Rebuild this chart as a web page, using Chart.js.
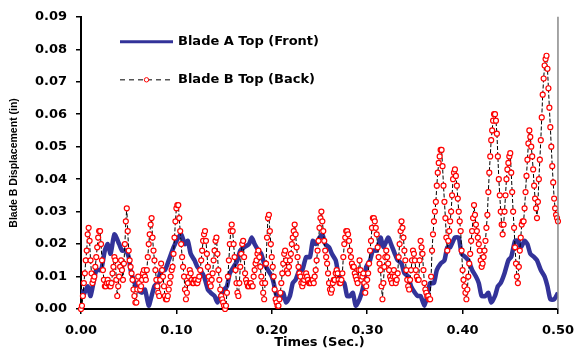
<!DOCTYPE html>
<html>
<head>
<meta charset="utf-8">
<script src="https://cdn.jsdelivr.net/npm/chart.js@4.4.0/dist/chart.umd.min.js"></script>
<style>
  html, body { margin: 0; padding: 0; background: #fff; }
  #wrap { width: 583px; height: 354px; }
</style>
</head>
<body>
<div id="wrap"><canvas id="graph" width="583" height="354"></canvas></div>
<script>
// Blade A Top (Front) - time (sec) / displacement (in)
const bladeATime = [0.000,0.002,0.007,0.010,0.016,0.021,0.025,0.028,0.031,0.035,0.040,0.043,0.047,0.050,0.052,0.055,0.059,0.064,0.067,0.071,
  0.074,0.077,0.080,0.084,0.088,0.092,0.097,0.102,0.105,0.109,0.112,0.115,0.119,0.122,0.125,0.129,0.133,0.136,0.140,0.143,
  0.146,0.150,0.153,0.156,0.160,0.164,0.167,0.171,0.176,0.179,0.182,0.186,0.189,0.192,0.196,0.200,0.202,0.205,0.209,0.212,
  0.215,0.219,0.222,0.225,0.229,0.232,0.236,0.240,0.243,0.246,0.250,0.253,0.256,0.260,0.263,0.267,0.269,0.272,0.276,0.279,
  0.282,0.285,0.288,0.292,0.296,0.299,0.303,0.306,0.310,0.314,0.317,0.322,0.325,0.329,0.332,0.336,0.339,0.343,0.346,0.350,
  0.353,0.356,0.360,0.363,0.366,0.370,0.373,0.377,0.381,0.384,0.387,0.392,0.396,0.399,0.403,0.406,0.410,0.414,0.417,0.420,
  0.424,0.427,0.430,0.434,0.437,0.440,0.444,0.448,0.451,0.455,0.458,0.461,0.465,0.468,0.471,0.475,0.478,0.482,0.486,0.489,
  0.492,0.496,0.500];
const bladeA = [0.006,0.004,0.007,0.004,0.012,0.012,0.018,0.020,0.017,0.023,0.020,0.018,0.018,0.016,0.012,0.009,0.006,0.005,0.006,0.001,
  0.004,0.007,0.008,0.012,0.012,0.015,0.019,0.022,0.023,0.020,0.021,0.017,0.015,0.013,0.012,0.010,0.006,0.005,0.004,0.002,
  0.004,0.006,0.007,0.011,0.013,0.015,0.018,0.019,0.020,0.022,0.020,0.018,0.017,0.014,0.012,0.010,0.008,0.004,0.003,0.005,
  0.002,0.004,0.008,0.009,0.012,0.012,0.016,0.016,0.021,0.020,0.022,0.023,0.020,0.019,0.017,0.015,0.012,0.009,0.008,0.004,
  0.004,0.005,0.001,0.003,0.007,0.013,0.015,0.018,0.018,0.022,0.019,0.022,0.020,0.017,0.015,0.014,0.011,0.010,0.007,0.005,
  0.004,0.004,0.001,0.004,0.008,0.008,0.012,0.014,0.015,0.019,0.019,0.022,0.022,0.017,0.016,0.015,0.012,0.010,0.008,0.004,
  0.004,0.005,0.002,0.004,0.007,0.008,0.011,0.015,0.016,0.021,0.021,0.019,0.021,0.020,0.017,0.016,0.015,0.012,0.010,0.007,
  0.003,0.003,0.005];

// Blade B Top (Back) - sampled every 1 ms (one row = 20 ms)
const bladeBStep = 0.001;
const bladeB = [
  0.000,0.001,0.004,0.008,0.011,0.015,0.018,0.023,0.025,0.021,0.015,0.011,0.008,0.009,0.010,0.013,0.016,0.019,0.022,0.024,
  0.024,0.020,0.015,0.012,0.009,0.007,0.007,0.008,0.009,0.008,0.007,0.007,0.008,0.011,0.013,0.016,0.015,0.009,0.004,0.007,
  0.010,0.013,0.015,0.012,0.009,0.014,0.020,0.027,0.031,0.024,0.018,0.015,0.013,0.011,0.009,0.006,0.004,0.002,0.002,0.006,
  0.010,0.008,0.006,0.007,0.009,0.011,0.012,0.010,0.009,0.012,0.016,0.020,0.023,0.026,0.028,0.022,0.018,0.015,0.012,0.009,
  0.007,0.005,0.004,0.009,0.014,0.012,0.010,0.007,0.004,0.003,0.003,0.004,0.006,0.008,0.010,0.012,0.013,0.017,0.022,0.027,
  0.031,0.032,0.032,0.028,0.024,0.020,0.016,0.013,0.010,0.006,0.003,0.005,0.008,0.010,0.012,0.011,0.009,0.008,0.008,0.009,
  0.009,0.008,0.008,0.009,0.010,0.012,0.015,0.018,0.021,0.023,0.024,0.021,0.017,0.013,0.010,0.008,0.007,0.009,0.011,0.015,
  0.018,0.021,0.022,0.017,0.012,0.009,0.006,0.004,0.003,0.002,0.001,0.000,0.001,0.005,0.010,0.015,0.020,0.024,0.026,0.024,
  0.020,0.016,0.012,0.008,0.005,0.004,0.008,0.013,0.017,0.020,0.021,0.016,0.011,0.009,0.008,0.007,0.007,0.008,0.008,0.007,
  0.007,0.010,0.012,0.014,0.015,0.017,0.018,0.016,0.013,0.010,0.008,0.005,0.003,0.008,0.014,0.022,0.028,0.029,0.024,0.020,
  0.016,0.013,0.010,0.006,0.003,0.002,0.001,0.001,0.003,0.005,0.008,0.011,0.014,0.017,0.018,0.015,0.012,0.011,0.013,0.015,
  0.017,0.020,0.022,0.024,0.026,0.023,0.019,0.016,0.013,0.011,0.010,0.008,0.007,0.008,0.009,0.010,0.011,0.010,0.009,0.008,
  0.008,0.008,0.009,0.009,0.008,0.010,0.012,0.015,0.018,0.021,0.025,0.028,0.030,0.027,0.024,0.021,0.018,0.016,0.014,0.011,
  0.008,0.006,0.005,0.006,0.008,0.009,0.009,0.011,0.012,0.011,0.009,0.008,0.008,0.009,0.011,0.016,0.020,0.022,0.024,0.024,
  0.023,0.021,0.018,0.016,0.014,0.013,0.013,0.011,0.010,0.009,0.008,0.012,0.015,0.012,0.009,0.010,0.011,0.008,0.005,0.007,
  0.009,0.011,0.014,0.018,0.021,0.025,0.028,0.028,0.027,0.025,0.023,0.019,0.016,0.014,0.012,0.007,0.003,0.008,0.013,0.016,
  0.018,0.016,0.014,0.012,0.010,0.009,0.008,0.010,0.012,0.010,0.008,0.009,0.011,0.016,0.020,0.024,0.027,0.025,0.022,0.018,
  0.015,0.012,0.009,0.007,0.006,0.009,0.012,0.015,0.018,0.017,0.015,0.012,0.010,0.009,0.009,0.015,0.021,0.019,0.017,0.012,
  0.008,0.006,0.005,0.004,0.004,0.003,0.003,0.010,0.018,0.023,0.027,0.030,0.033,0.038,0.042,0.045,0.047,0.049,0.049,0.044,
  0.038,0.033,0.028,0.022,0.018,0.021,0.024,0.027,0.030,0.035,0.040,0.042,0.043,0.041,0.038,0.034,0.030,0.027,0.024,0.018,
  0.012,0.009,0.007,0.005,0.003,0.006,0.010,0.014,0.017,0.021,0.024,0.028,0.032,0.029,0.026,0.024,0.022,0.020,0.018,0.015,
  0.013,0.014,0.016,0.018,0.021,0.025,0.029,0.036,0.042,0.047,0.052,0.055,0.058,0.060,0.060,0.058,0.054,0.047,0.040,0.035,
  0.030,0.026,0.023,0.026,0.030,0.035,0.040,0.043,0.045,0.047,0.048,0.042,0.036,0.030,0.025,0.019,0.014,0.010,0.008,0.013,
  0.018,0.022,0.026,0.027,0.027,0.031,0.036,0.041,0.046,0.051,0.055,0.053,0.050,0.047,0.043,0.038,0.034,0.031,0.028,0.033,
  0.040,0.046,0.052,0.059,0.066,0.071,0.075,0.077,0.078,0.074,0.068,0.062,0.056,0.050,0.044,0.039,0.034,0.031,0.029,0.028,
  0.027];

const seriesNames = ['Blade A Top (Front)', 'Blade B Top (Back)'];
const xTitle = 'Times (Sec.)';
const yTitle = 'Blade B Displacement (in)';

const blue = '#333399';
const tickFont = { family: 'DejaVu Sans', size: 13, weight: 'bold' };

const aPoints = bladeATime.map((t, i) => ({ x: t, y: bladeA[i] }));
const bPoints = bladeB.map((v, i) => ({ x: i * bladeBStep, y: v }));

// legend drawn inside the plot, top left
const innerLegend = {
  id: 'innerLegend',
  afterDatasetsDraw(chart) {
    const ctx = chart.ctx;
    const a = chart.chartArea;
    const x0 = a.left + 39, x1 = a.left + 92, tx = a.left + 97;
    const y1 = a.top + 25, y2 = a.top + 63;
    ctx.save();
    ctx.lineWidth = 3;
    ctx.strokeStyle = blue;
    ctx.beginPath(); ctx.moveTo(x0, y1); ctx.lineTo(x1, y1); ctx.stroke();
    ctx.lineWidth = 1.5;
    ctx.strokeStyle = '#555';
    ctx.setLineDash([5, 4]);
    ctx.beginPath(); ctx.moveTo(x0, y2); ctx.lineTo(x1, y2); ctx.stroke();
    ctx.setLineDash([]);
    ctx.fillStyle = '#fff';
    ctx.strokeStyle = 'red';
    ctx.lineWidth = 1;
    ctx.beginPath(); ctx.arc((x0 + x1) / 2, y2, 2.2, 0, Math.PI * 2); ctx.fill(); ctx.stroke();
    ctx.fillStyle = '#000';
    ctx.font = 'bold 13px "DejaVu Sans"';
    ctx.textBaseline = 'middle';
    ctx.fillText(seriesNames[0], tx, y1);
    ctx.fillText(seriesNames[1], tx, y2);
    // right frame line
    ctx.strokeStyle = '#888';
    ctx.lineWidth = 1.5;
    ctx.beginPath(); ctx.moveTo(a.right, a.top); ctx.lineTo(a.right, a.bottom); ctx.stroke();
    ctx.restore();
  }
};

new Chart(document.getElementById('graph'), {
  type: 'line',
  data: {
    datasets: [
      {
        label: seriesNames[1],
        data: bPoints,
        borderColor: '#000',
        borderWidth: 1,
        borderDash: [4, 2],
        pointRadius: 2.5,
        pointBorderColor: 'red',
        pointBackgroundColor: '#fff',
        pointBorderWidth: 1.2,
        tension: 0,
        clip: false,
        order: 0
      },
      {
        label: seriesNames[0],
        data: aPoints,
        borderColor: blue,
        borderWidth: 4.5,
        pointRadius: 0,
        tension: 0.2,
        order: 1
      }
    ]
  },
  options: {
    responsive: false,
    animation: false,
    layout: { padding: { top: 10, right: 16, left: 0, bottom: 0 } },
    plugins: { legend: { display: false }, tooltip: { enabled: false } },
    scales: {
      x: {
        type: 'linear',
        min: 0,
        max: 0.5,
        afterFit: (s) => { s.height = 45; },
        border: { color: '#000', width: 2 },
        grid: { drawOnChartArea: false, color: '#000', lineWidth: 1.5, tickLength: 5 },
        ticks: { stepSize: 0.1, color: '#000', font: tickFont, padding: 9, maxRotation: 0,
          callback: (v) => v.toFixed(2) },
        title: { display: true, text: xTitle, color: '#000', font: tickFont, padding: { top: 0, bottom: 4 } }
      },
      y: {
        min: 0,
        max: 0.09,
        afterFit: (s) => { s.width = 81; },
        border: { color: '#000', width: 2 },
        grid: { drawOnChartArea: false, color: '#000', lineWidth: 1.5, tickLength: 5 },
        ticks: { stepSize: 0.01, color: '#000', font: tickFont, padding: 9,
          callback: (v) => v.toFixed(2) },
        title: { display: true, text: yTitle, color: '#000',
          font: { family: 'Liberation Sans', size: 10.5, weight: 'bold' }, padding: { top: 8, bottom: 0 } }
      }
    }
  },
  plugins: [innerLegend]
});
</script>
</body>
</html>
